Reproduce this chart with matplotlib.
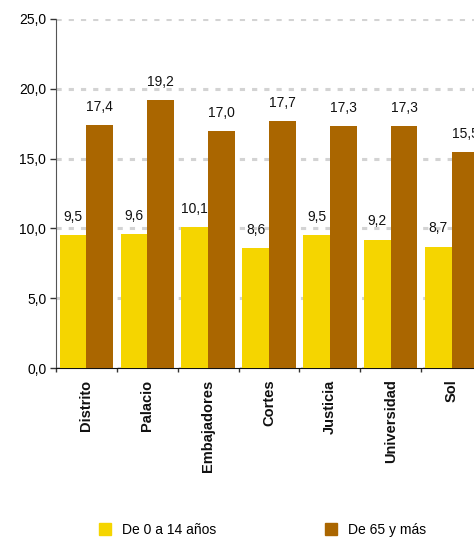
import matplotlib
matplotlib.use('Agg')
import matplotlib.pyplot as plt
from matplotlib.patches import Patch
import numpy as np

plt.rcParams['font.family'] = ['Liberation Sans', 'DejaVu Sans']

categories = ['Distrito', 'Palacio', 'Embajadores', 'Cortes', 'Justicia', 'Universidad', 'Sol']
young = [9.5, 9.6, 10.1, 8.6, 9.5, 9.2, 8.7]
old = [17.4, 19.2, 17.0, 17.7, 17.3, 17.3, 15.5]
series_names = ['De 0 a 14 años', 'De 65 y más']
yticks = [0, 5, 10, 15, 20, 25]

YELLOW = '#F5D500'
BROWN = '#AA6600'

W, H = 474, 538
fig = plt.figure(figsize=(W / 100, H / 100), dpi=100)
# axes runs a bit past the right edge of the figure, like the original crop
ax = fig.add_axes([56 / W, 1 - 368 / H, (482 - 56) / W, (368 - 19) / H])

x = np.arange(len(categories))
bw = 0.44
b1 = ax.bar(x - bw / 2, young, bw, color=YELLOW, zorder=3)
b2 = ax.bar(x + bw / 2, old, bw, color=BROWN, zorder=3)

for bars, vals in ((b1, young), (b2, old)):
    for bar, v in zip(bars, vals):
        ax.annotate(f'{v:.1f}'.replace('.', ','),
                    (bar.get_x() + bar.get_width() / 2, v),
                    xytext=(0, 8), textcoords='offset points',
                    ha='center', va='bottom', fontsize=10, color='#111111')

ax.set_xlim(-0.5, len(categories) - 0.5)
ax.set_ylim(0, 25)
ax.set_yticks(yticks)
ax.set_yticklabels([f'{t:.1f}'.replace('.', ',') for t in yticks], fontsize=10)
ax.yaxis.grid(True, color='#d3d3d3', linestyle=(0, (1.7, 2.3)), linewidth=2.2, zorder=0)
ax.set_axisbelow(True)

ax.set_xticks(np.arange(len(categories) + 1) - 0.5)
ax.set_xticklabels([])
ax.tick_params(axis='x', length=3, width=1, color='#333333')
ax.tick_params(axis='y', length=4, width=1, color='#333333', pad=3)
for i, c in enumerate(categories):
    ax.text(i, -0.033, c, transform=ax.get_xaxis_transform(), rotation=90,
            ha='center', va='top', fontsize=10.5, fontweight='bold', color='#111111')

for s in ('top', 'right'):
    ax.spines[s].set_visible(False)
ax.spines['left'].set_color('#555555')
ax.spines['bottom'].set_color('#111111')

handles = [Patch(color=YELLOW), Patch(color=BROWN)]
fig.legend(handles, series_names, loc='center left', bbox_to_anchor=(86 / W, 1 - 530 / H),
           ncol=2, frameon=False, fontsize=10, handlelength=0.9, handleheight=0.9,
           handletextpad=0.8, columnspacing=7.8)

fig.savefig('out.png', dpi=100)
